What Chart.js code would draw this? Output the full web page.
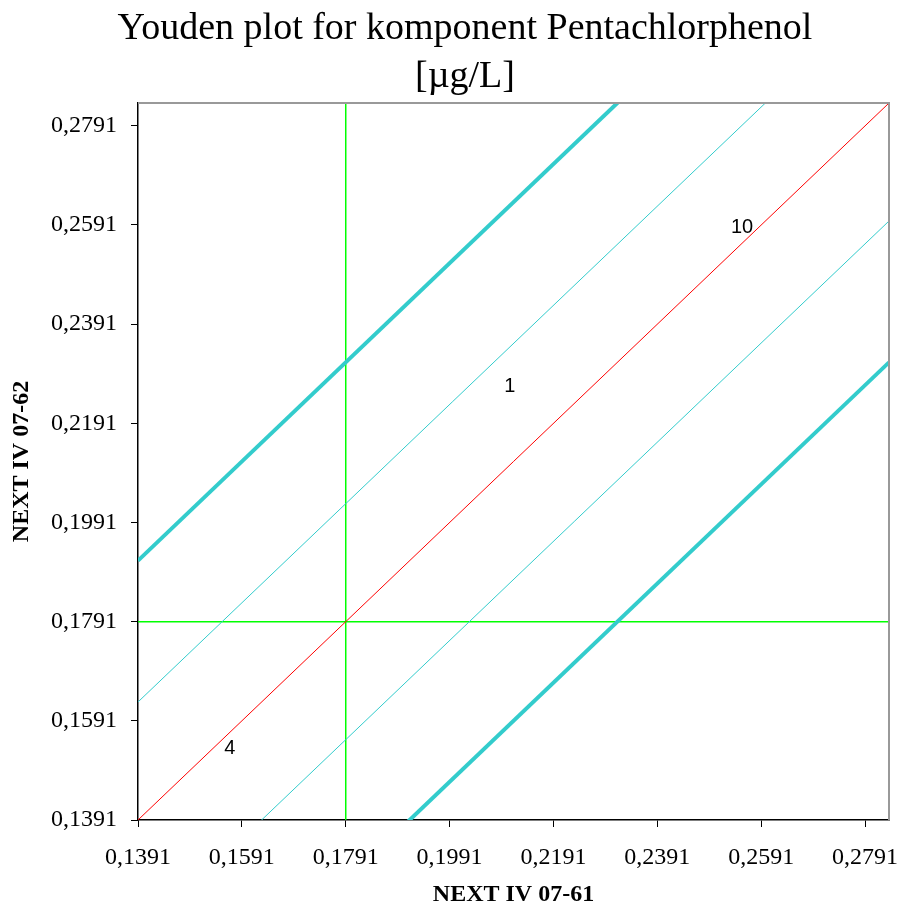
<!DOCTYPE html>
<html>
<head>
<meta charset="utf-8">
<title>Youden plot</title>
<script src="https://cdn.jsdelivr.net/npm/chart.js@4"></script>
<style>
  html, body { margin: 0; padding: 0; background: #fff; }
  #wrap { width: 903px; height: 912px; }
</style>
</head>
<body>
<div id="wrap"><canvas id="youden"></canvas></div>
<script>
// Achsen
const axisMin = 0.1391;
const axisMax = 0.2837;
const tickValues = [0.1391, 0.1591, 0.1791, 0.1991, 0.2191, 0.2391, 0.2591, 0.2791];
const assigned = 0.1791;            // Sollwert (grüne Linien)
const thinOffset = 0.0238;          // dünne Grenzlinien
const thickOffset = 0.0523;         // dicke Grenzlinien

// Laborwerte
const labNames = ['4', '1', '10'];
const labX = [0.1568, 0.2107, 0.2554];
const labY = [0.1536, 0.2265, 0.2585];

const titleLines = ['Youden plot for komponent Pentachlorphenol', '[\u00b5g/L]'];

function diag(d) {
    return [{ x: axisMin, y: axisMin + d }, { x: axisMax, y: axisMax + d }];
}

function fmt(v) {
    return v.toFixed(4).replace('.', ',');
}

const cyan = '#33cccc';
const serif = '"Liberation Serif", "Times New Roman", serif';

// Titel selbst zeichnen (zentriert wie im Original)
const titlePlugin = {
    id: 'titel',
    afterDraw(chart) {
        const c = chart.ctx;
        c.save();
        c.fillStyle = '#000';
        c.font = '38px ' + serif;
        c.textAlign = 'center';
        c.textBaseline = 'middle';
        c.fillText(titleLines[0], 465, 29);
        c.fillText(titleLines[1], 465, 77);
        c.restore();
    }
};

// grauer Rahmen oben und rechts
const framePlugin = {
    id: 'rahmen',
    afterDraw(chart) {
        const a = chart.chartArea;
        const c = chart.ctx;
        c.save();
        c.strokeStyle = '#999999';
        c.lineWidth = 2;
        c.beginPath();
        c.moveTo(a.left, a.top);
        c.lineTo(a.right, a.top);
        c.lineTo(a.right, a.bottom);
        c.stroke();
        c.restore();
    }
};

// Labornummern an den Messpunkten
const labPlugin = {
    id: 'labore',
    afterDatasetsDraw(chart) {
        const xs = chart.scales.x, ys = chart.scales.y;
        const c = chart.ctx;
        c.save();
        c.fillStyle = '#000';
        c.font = '20px "Liberation Sans", Arial, sans-serif';
        c.textAlign = 'center';
        c.textBaseline = 'middle';
        labNames.forEach((n, i) => {
            c.fillText(n, xs.getPixelForValue(labX[i]), ys.getPixelForValue(labY[i]));
        });
        c.restore();
    }
};

const ctx = document.getElementById('youden').getContext('2d');
new Chart(ctx, {
    type: 'line',
    data: {
        datasets: [
            { data: diag(thickOffset), borderColor: cyan, borderWidth: 4 },
            { data: diag(thinOffset), borderColor: cyan, borderWidth: 1 },
            { data: diag(0), borderColor: '#ff0000', borderWidth: 1 },
            { data: diag(-thinOffset), borderColor: cyan, borderWidth: 1 },
            { data: diag(-thickOffset), borderColor: cyan, borderWidth: 4 },
            { data: [{ x: assigned, y: axisMin }, { x: assigned, y: axisMax }], borderColor: '#00ff00', borderWidth: 1.5 },
            { data: [{ x: axisMin, y: assigned }, { x: axisMax, y: assigned }], borderColor: '#00ff00', borderWidth: 1.5 }
        ]
    },
    options: {
        responsive: true,
        maintainAspectRatio: false,
        animation: false,
        parsing: false,
        elements: {
            point: { radius: 0 },
            line: { tension: 0 }
        },
        layout: {
            padding: { top: 103, right: 14, left: 0, bottom: 0 }
        },
        plugins: {
            legend: { display: false },
            title: { display: false },
            tooltip: { enabled: false }
        },
        scales: {
            x: {
                type: 'linear',
                min: axisMin,
                max: axisMax,
                afterBuildTicks: s => { s.ticks = tickValues.map(v => ({ value: v })); },
                afterFit: s => { s.height = 92; s.paddingRight = 0; s.paddingLeft = 0; },
                grid: { drawOnChartArea: false, drawTicks: true, tickLength: 7, color: '#000' },
                border: { color: '#000', width: 1.5 },
                ticks: {
                    color: '#000',
                    padding: 16,
                    maxRotation: 0,
                    autoSkip: false,
                    font: { family: serif, size: 24 },
                    callback: v => fmt(v)
                },
                title: {
                    display: true,
                    text: 'NEXT IV 07-61',
                    color: '#000',
                    padding: { top: 0, bottom: 3 },
                    font: { family: serif, size: 24, weight: 'bold' }
                }
            },
            y: {
                type: 'linear',
                min: axisMin,
                max: axisMax,
                afterBuildTicks: s => { s.ticks = tickValues.map(v => ({ value: v })); },
                afterFit: s => { s.width = 138; },
                grid: { drawOnChartArea: false, drawTicks: true, tickLength: 7, color: '#000' },
                border: { color: '#000', width: 1.5 },
                ticks: {
                    color: '#000',
                    padding: 14,
                    autoSkip: false,
                    font: { family: serif, size: 24 },
                    callback: v => fmt(v)
                },
                title: {
                    display: true,
                    text: 'NEXT IV 07-62',
                    color: '#000',
                    padding: { top: 7, bottom: 0 },
                    font: { family: serif, size: 24, weight: 'bold' }
                }
            }
        }
    },
    plugins: [titlePlugin, framePlugin, labPlugin]
});
</script>
</body>
</html>
